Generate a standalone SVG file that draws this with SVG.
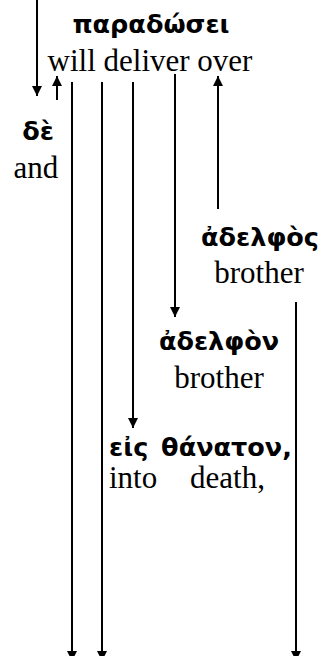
<svg xmlns="http://www.w3.org/2000/svg" width="324" height="656" viewBox="0 0 324 656">
  <defs>
    <marker id="arrow" markerUnits="userSpaceOnUse" markerWidth="11" markerHeight="11" refX="10" refY="5" orient="auto">
      <path d="M0,0 L10,5 L0,10 z" fill="#000"/>
    </marker>
    <style>
      .gk { font-family: "DejaVu Sans", "Noto Sans", sans-serif; font-weight: bold; font-size: 25.5px; fill: #000; }
      .en { font-family: "Liberation Serif", "Times New Roman", serif; font-size: 31px; fill: #000; }
      .edge { stroke: #000; stroke-width: 2; fill: none; }
      .arr { marker-end: url(#arrow); }
    </style>
  </defs>

  <g id="connectors">
    <line class="edge arr" x1="37" y1="0" x2="37" y2="96"/>
    <line class="edge arr" x1="57" y1="100" x2="57" y2="76"/>
    <line class="edge arr" x1="72" y1="82" x2="72" y2="661"/>
    <line class="edge arr" x1="102" y1="82" x2="102" y2="661"/>
    <line class="edge arr" x1="133" y1="82" x2="133" y2="428"/>
    <line class="edge arr" x1="175" y1="74" x2="175" y2="317"/>
    <line class="edge arr" x1="218" y1="209" x2="218" y2="76"/>
    <line class="edge arr" x1="296" y1="302" x2="296" y2="661"/>
  </g>

  <g id="paradosei">
    <text class="gk" x="151" y="33" text-anchor="middle">παραδώσει</text>
    <text class="en" x="150" y="71" text-anchor="middle">will deliver over</text>
  </g>

  <g id="de">
    <text class="gk" x="38" y="140" text-anchor="middle">δὲ</text>
    <text class="en" x="36" y="178" text-anchor="middle">and</text>
  </g>

  <g id="adelphos">
    <text class="gk" x="260" y="246" text-anchor="middle">ἀδελφὸς</text>
    <text class="en" x="259" y="283" text-anchor="middle">brother</text>
  </g>

  <g id="adelphon">
    <text class="gk" x="219" y="350" text-anchor="middle">ἀδελφὸν</text>
    <text class="en" x="219" y="388" text-anchor="middle">brother</text>
  </g>

  <g id="eis-thanaton">
    <text class="gk" x="109" y="456" word-spacing="4">εἰς θάνατον,</text>
    <text class="en" x="109" y="488">into</text>
    <text class="en" x="190" y="488">death,</text>
  </g>
</svg>
